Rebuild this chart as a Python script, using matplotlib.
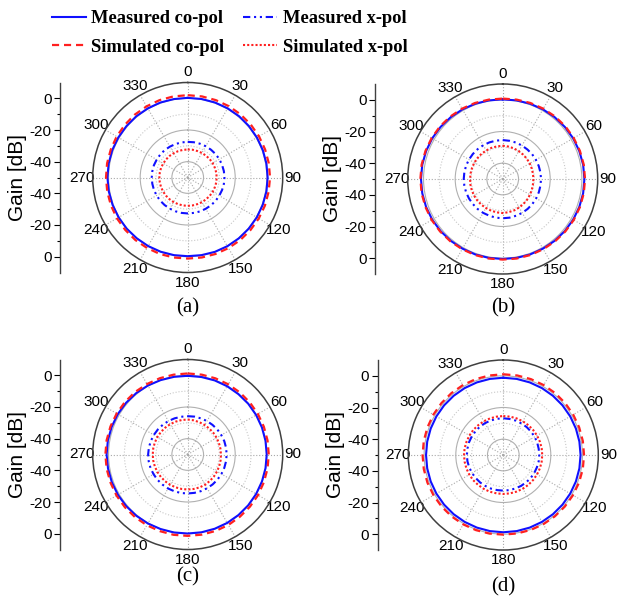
"""Radiation patterns (a)-(d): measured vs simulated co-pol / x-pol gain."""
import numpy as np
import matplotlib
matplotlib.use("Agg")
import matplotlib.pyplot as plt
from matplotlib.lines import Line2D

# angles in degrees, every 10 deg (curves are closed back to 0 when drawn)
ANGLES = list(range(0, 360, 10))

# panel (a)
A_MEAS_CO = [0.3, 0.35, 0.4, 0.45, 0.5, 0.5, 0.5, 0.5, 0.5,
             0.5, 0.5, 0.45, 0.4, 0.3, 0.2, 0.1, 0.0, -0.2,
             -0.3, -0.2, -0.1, 0.0, 0.1, 0.3, 0.4, 0.5, 0.6,
             0.7, 0.7, 0.7, 0.6, 0.5, 0.5, 0.4, 0.4, 0.3]
A_SIM_CO = [2.0, 2.0, 2.0, 2.0, 2.0, 2.0, 2.0, 2.0, 2.0,
            2.0, 1.9, 1.9, 1.8, 1.7, 1.6, 1.5, 1.4, 1.3,
            1.2, 1.3, 1.4, 1.4, 1.5, 1.5, 1.6, 1.6, 1.6,
            1.6, 1.7, 1.7, 1.8, 1.8, 1.9, 1.9, 2.0, 2.0]
A_MEAS_X = [-27.5, -27.4, -27.3, -27.2, -27.1, -27.0, -26.9, -26.9, -26.8,
            -26.8, -26.8, -26.9, -27.0, -27.0, -27.1, -27.2, -27.2, -27.3,
            -27.3, -27.3, -27.3, -27.3, -27.3, -27.3, -27.3, -27.3, -27.3,
            -27.3, -27.3, -27.3, -27.4, -27.4, -27.4, -27.5, -27.5, -27.5]
A_SIM_X = [-32.3, -32.2, -32.2, -32.1, -32.0, -31.9, -31.8, -31.8, -31.7,
           -31.7, -31.7, -31.8, -31.8, -31.9, -32.0, -32.0, -32.1, -32.1,
           -32.1, -32.1, -32.1, -32.1, -32.1, -32.1, -32.1, -32.1, -32.1,
           -32.1, -32.1, -32.1, -32.2, -32.2, -32.2, -32.3, -32.3, -32.3]

# panel (b)
B_MEAS_CO = [0.3, 0.4, 0.6, 0.8, 1.0, 1.2, 1.4, 1.5, 1.6,
             1.6, 1.6, 1.5, 1.4, 1.2, 1.0, 0.8, 0.7, 0.6,
             0.5, 0.6, 0.7, 0.8, 1.0, 1.2, 1.4, 1.5, 1.6,
             1.6, 1.6, 1.5, 1.4, 1.2, 1.0, 0.8, 0.6, 0.4]
B_SIM_CO = [0.8, 0.9, 1.1, 1.3, 1.5, 1.7, 1.8, 1.9, 2.0,
            2.0, 2.0, 1.9, 1.8, 1.6, 1.4, 1.2, 1.1, 1.0,
            0.9, 1.0, 1.1, 1.2, 1.4, 1.6, 1.8, 1.9, 2.0,
            2.0, 2.0, 1.9, 1.8, 1.7, 1.5, 1.3, 1.1, 0.9]
B_MEAS_X = [-25.4, -25.5, -25.5, -25.6, -25.7, -25.7, -25.8, -25.8, -25.8,
            -25.8, -25.8, -25.7, -25.6, -25.5, -25.4, -25.3, -25.3, -25.2,
            -25.2, -25.2, -25.3, -25.3, -25.3, -25.4, -25.4, -25.4, -25.4,
            -25.4, -25.4, -25.4, -25.4, -25.4, -25.4, -25.4, -25.4, -25.4]
B_SIM_X = [-29.0, -29.2, -29.4, -29.7, -29.9, -30.1, -30.3, -30.5, -30.6,
           -30.6, -30.6, -30.4, -30.1, -29.8, -29.5, -29.2, -28.9, -28.7,
           -28.5, -28.6, -28.7, -28.8, -28.9, -29.0, -29.1, -29.2, -29.3,
           -29.4, -29.4, -29.4, -29.3, -29.3, -29.2, -29.2, -29.1, -29.1]

# panel (c)
C_MEAS_CO = [-0.3, -0.3, -0.2, -0.2, -0.2, -0.1, -0.1, -0.1, -0.1,
             -0.1, -0.1, -0.1, -0.1, -0.1, -0.1, -0.1, -0.1, -0.1,
             -0.1, 0.0, 0.1, 0.3, 0.5, 0.7, 0.9, 1.0, 1.1,
             1.2, 1.2, 1.1, 1.0, 0.8, 0.6, 0.3, 0.0, -0.2]
C_SIM_CO = [1.2, 1.2, 1.2, 1.2, 1.2, 1.2, 1.2, 1.2, 1.2,
            1.2, 1.2, 1.2, 1.3, 1.3, 1.3, 1.4, 1.4, 1.4,
            1.4, 1.5, 1.5, 1.6, 1.7, 1.8, 1.9, 1.9, 2.0,
            2.0, 2.0, 1.9, 1.8, 1.7, 1.6, 1.4, 1.3, 1.2]
C_MEAS_X = [-25.8, -25.7, -25.7, -25.6, -25.6, -25.5, -25.5, -25.4, -25.4,
            -25.4, -25.4, -25.4, -25.4, -25.4, -25.4, -25.4, -25.4, -25.4,
            -25.4, -25.3, -25.3, -25.2, -25.2, -25.1, -25.1, -25.0, -25.0,
            -25.0, -25.1, -25.2, -25.3, -25.4, -25.5, -25.6, -25.7, -25.8]
C_SIM_X = [-27.9, -28.1, -28.3, -28.5, -28.7, -28.8, -28.9, -29.0, -29.0,
           -29.0, -28.9, -28.8, -28.6, -28.4, -28.2, -28.0, -27.9, -27.9,
           -27.9, -27.9, -27.9, -27.9, -27.9, -27.9, -27.9, -27.9, -27.9,
           -27.9, -27.9, -27.9, -27.9, -27.9, -27.9, -27.9, -27.9, -27.9]

# panel (d)
D_MEAS_CO = [-1.2, -1.2, -1.2, -1.2, -1.2, -1.2, -1.2, -1.2, -1.2,
             -1.2, -1.2, -1.2, -1.2, -1.2, -1.2, -1.2, -1.2, -1.2,
             -1.2, -1.2, -1.2, -1.2, -1.2, -1.2, -1.2, -1.2, -1.2,
             -1.2, -1.2, -1.2, -1.2, -1.2, -1.2, -1.2, -1.2, -1.2]
D_SIM_CO = [1.0, 1.0, 1.0, 1.0, 1.0, 1.0, 1.0, 1.0, 1.0,
            1.0, 1.0, 0.9, 0.8, 0.7, 0.6, 0.5, 0.4, 0.3,
            0.3, 0.4, 0.5, 0.6, 0.7, 0.8, 0.9, 1.0, 1.0,
            1.0, 1.0, 1.0, 1.0, 1.0, 1.0, 1.0, 1.0, 1.0]
D_MEAS_X = [-26.8, -26.9, -26.9, -27.0, -27.0, -27.1, -27.1, -27.2, -27.3,
            -27.3, -27.3, -27.4, -27.4, -27.4, -27.5, -27.5, -27.5, -27.5,
            -27.5, -27.5, -27.4, -27.4, -27.3, -27.3, -27.2, -27.1, -27.0,
            -27.0, -27.0, -26.9, -26.9, -26.9, -26.8, -26.8, -26.8, -26.8]
D_SIM_X = [-25.4, -25.4, -25.4, -25.4, -25.4, -25.4, -25.4, -25.4, -25.4,
           -25.4, -25.4, -25.4, -25.4, -25.4, -25.4, -25.4, -25.4, -25.4,
           -25.4, -25.4, -25.3, -25.3, -25.3, -25.2, -25.2, -25.2, -25.2,
           -25.2, -25.2, -25.3, -25.3, -25.3, -25.4, -25.4, -25.4, -25.4]

PANELS = {
    "(a)": (A_MEAS_CO, A_SIM_CO, A_MEAS_X, A_SIM_X),
    "(b)": (B_MEAS_CO, B_SIM_CO, B_MEAS_X, B_SIM_X),
    "(c)": (C_MEAS_CO, C_SIM_CO, C_MEAS_X, C_SIM_X),
    "(d)": (D_MEAS_CO, D_SIM_CO, D_MEAS_X, D_SIM_X),
}
LABELS = ["Measured co-pol", "Simulated co-pol", "Measured x-pol", "Simulated x-pol"]
THETA_TICKS = list(range(0, 360, 30))
R_LABELS = ["0", "-20", "-40", "-40", "-20", "0"]

BLUE = "#1010ff"
RED = "#ff2020"
STYLES = [
    dict(color=BLUE, lw=1.5, ls="-"),
    dict(color=RED, lw=1.6, ls=(0, (3.2, 2.2))),
    dict(color=BLUE, lw=1.5, ls=(0, (3.5, 1.8, 1.0, 1.8, 1.0, 1.8))),
    dict(color=RED, lw=1.5, ls=(0, (1.0, 1.0))),
]

SANS = "Liberation Sans"
SERIF = "Liberation Serif"

W, H = 617, 600
# (polar box left, bottom) in px, radial axis line x in px, caption y in px
LAYOUT = {
    "(a)": (92.7, 272.5, 60.0, 308),
    "(b)": (407.7, 274.0, 375.0, 308),
    "(c)": (92.7, 549.5, 60.0, 577),
    "(d)": (408.3, 550.0, 377.7, 587),
}
R = 95.0  # polar radius, px

fig = plt.figure(figsize=(W / 100, H / 100), dpi=100)
th = np.deg2rad(ANGLES + [360])

for name, series in PANELS.items():
    left_px, bot_px, axis_x, cap_y = LAYOUT[name]
    rect = [left_px / W, 1 - bot_px / H, 2 * R / W, 2 * R / H]
    ax = fig.add_axes(rect, projection="polar")
    ax.set_theta_zero_location("N")
    ax.set_theta_direction(-1)
    ax.set_rlim(-50, 10)
    for vals, st in zip(series, STYLES):
        ax.plot(th, vals + vals[:1], **st)

    ax.set_thetagrids(THETA_TICKS, [str(a) for a in THETA_TICKS],
                      fontsize=11, family=SANS)
    ax.set_yticks([-40, -20, 0])
    ax.set_yticks([-30, -10], minor=True)
    ax.set_yticklabels([])
    ax.yaxis.grid(True, which="major", color="#b0b0b0", lw=0.8, ls="-")
    ax.yaxis.grid(True, which="minor", color="#c8c8c8", lw=0.8, ls=":")
    ax.xaxis.grid(True, color="#a8a8a8", lw=0.8, ls=":")
    ax.tick_params(axis="x", pad=0.5, direction="in", length=4, colors="black")
    ax.tick_params(axis="y", which="both", length=0)
    ax.spines["polar"].set_color("#404040")
    ax.spines["polar"].set_linewidth(1.1)

    # mirrored radial scale on the left
    rax = fig.add_axes([axis_x / W, rect[1], 0.001, rect[3]])
    rax.set_ylim(-60, 60)
    for s in ["top", "right", "bottom"]:
        rax.spines[s].set_visible(False)
    rax.spines["left"].set_color("#404040")
    rax.spines["left"].set_linewidth(1.0)
    rax.set_xticks([])
    rax.set_yticks([50, 30, 10, -10, -30, -50])
    rax.set_yticklabels(R_LABELS, fontsize=11, family=SANS)
    rax.set_yticks([40, 20, 0, -20, -40], minor=True)
    rax.tick_params(axis="y", which="major", length=4, width=0.8, pad=2, colors="black")
    rax.tick_params(axis="y", which="minor", length=2, width=0.8)
    rax.set_ylabel("Gain [dB]", fontsize=15, family=SANS)
    rax.yaxis.set_label_coords((axis_x - 33) / W, rect[1] + rect[3] / 2,
                               transform=fig.transFigure)
    rax.patch.set_visible(False)

    fig.text((left_px + R) / W, 1 - cap_y / H, name, ha="center", va="center",
             fontsize=15, family=SERIF)

handles = [Line2D([], [], **st) for st in STYLES]
fig.legend(handles, LABELS, loc="center", bbox_to_anchor=(0.372, 0.945), ncol=2,
           frameon=False, handlelength=1.85, handletextpad=0.3, columnspacing=1.0,
           labelspacing=0.63, prop=dict(family=SERIF, weight="bold", size=13.3))

fig.savefig("out.png", dpi=100)
plt.close(fig)
